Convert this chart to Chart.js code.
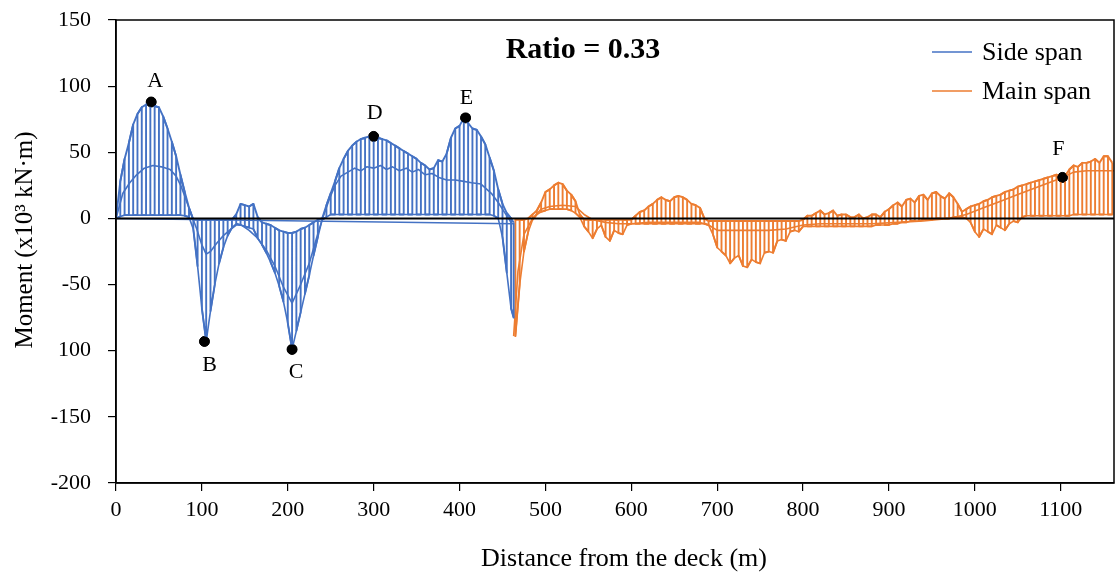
<!DOCTYPE html>
<html><head><meta charset="utf-8">
<script src="https://cdn.jsdelivr.net/npm/chart.js@4.4.1/dist/chart.umd.min.js"></script>
<style>html,body{margin:0;padding:0;background:#fff}#wrap{width:1120px;height:581px}</style>
</head><body><div id="wrap"><canvas id="c" width="1120" height="581"></canvas></div>
<script>
// ---------- DATA ----------
const xTickValues = [0,100,200,300,400,500,600,700,800,900,1000,1100];
const yTickValues = [-200,-150,-100,-50,0,50,100,150];

// Side span envelope (hatch positions, upper and lower values, x10^3 kN·m)
const sideX = [0,5,10,15,20,25,30,35,40,45,50,55,60,65,70,75,80,85,90,95,100,105,110,115,120,125,130,135,140,145,150,155,160,165,170,175,180,185,190,195,200,205,210,215,220,225,230,235,240,245,250,255,260,265,270,275,280,285,290,295,300,305,310,315,320,325,330,335,340,345,350,355,360,365,370,375,380,385,390,395,400,405,410,415,420,425,430,435,440,445,450,455,460,463];
const sideUpper = [0,28,45,57,71,79,84,86,88,85,84,77,68,58,47,33,20,8,-1,-1,-1,-1,-1,-1,-1,-1,-1,-1,3,11,10,9,11,1,-3,-4,-5,-7,-9,-10,-11,-11,-10,-8,-7,-5,-3,-1,0,10,19,28,38,45,51,55,58,60,61,62,62,61,60,59,57,55,53,51,49,47,45,42,40,37,38,44,43,49,61,68,70,76,72,68,67,62,56,46,36,22,11,4,0,-3];
const sideLower = [0,1.5,2.5,2.5,2.5,2.5,2.5,2.5,2.5,2.5,2.5,2.5,2.5,2.5,2.5,2.5,2,1,-8,-36,-68,-93,-70,-50,-34,-22,-13,-7,-4,-5,-6,-7,-8,-15,-20,-26,-33,-41,-51,-63,-79,-99,-85,-71,-57,-43,-28,-14,-1,1,3,3,3,3,3,3,3,3,3,3,3,3,3,3,3,3,3,3,3,3,3,3,3,3,3,3,3,3,3,3,3,3,3,3,3,3,3,3,2,0,-14,-41,-68,-75];
// Side span inner curve
const sideMidX = [0,8,16,24,33,43,53,63,70,76,81,86,90,94,100,105,110,117,125,132,140,146,155,165,175,185,195,205,215,225,233,240,248,255,262,270,278,285,292,300,308,315,322,330,338,345,352,360,368,376,385,395,405,414,425,437,445,453,461];
const sideMidY = [0,19,27,33,38,40,39,37,32,24,15,6,-1,-8,-20,-27,-25,-19,-13,-9,-5,-5,-9,-15,-24,-36,-52,-64,-50,-34,-16,-1,14,25,32,35,38,36,39,38,40,37,39,36,38,35,37,33,34,31,29,29,28,27,26,19,12,4,-4];
// Side span base line
const sideBaseX = [0,463];
const sideBaseY = [0,-4];

// Main span envelope
const mainX = [465,470,475,480,485,490,495,500,505,510,515,520,525,530,535,540,545,550,555,560,565,570,575,580,585,590,595,600,605,610,615,620,625,630,635,640,645,650,655,660,665,670,675,680,685,690,695,700,705,710,715,720,725,730,735,740,745,750,755,760,765,770,775,780,785,790,795,800,805,810,815,820,825,830,835,840,845,850,855,860,865,870,875,880,885,890,895,900,905,910,915,920,925,930,935,940,945,950,955,960,965,970,975,980,985,990,995,1000,1005,1010,1015,1020,1025,1030,1035,1040,1045,1050,1055,1060,1065,1070,1075,1080,1085,1090,1095,1100,1105,1110,1115,1120,1125,1130,1135,1140,1145,1150,1155,1160];
const mainUpper = [-1,-1,-1,0,3,6,12,20,22,25,27,26,21,18,13,3,-1,-1,-1,-1,-1,-1,-1,-1,-1,-1,-1,-1,2,5,6,9,11,14,16,14,13,16,17,16,14,11,10,8,0,-2,-2,-2,-2,-2,-2,-2,-2,-2,-2,-2,-2,-2,-2,-2,-2,-2,-2,-2,-2,-2,-2,-1,2,2,4,6,3,4,6,2,3,3,1,1,3,0,1,3,3,1,5,7,10,12,9,14,15,12,17,18,14,19,20,17,15,19,16,11,5,7,9,10,11,13,14,16,17,18,20,21,22,24,25,26,27,28,29,30,31,32,33,32,32,37,40,39,42,42,43,45,42,47,47,42];
const mainLower = [-89,-50,-25,-10,-1,3,5,6,7,7,7,7,7,6,4,1,-6,-10,-15,-8,-5,-14,-17,-9,-11,-12,-5,-4,-4,-4,-4,-4,-4,-4,-4,-4,-4,-4,-4,-4,-4,-4,-4,-4,-4,-5,-12,-22,-25,-28,-34,-30,-28,-36,-37,-31,-33,-34,-26,-25,-26,-17,-16,-17,-10,-9,-10,-6,-6,-6,-6,-6,-6,-6,-6,-6,-6,-6,-6,-6,-6,-6,-6,-6,-5,-5,-5,-5,-4,-4,-3,-3,-2,-2,-2,-1,-1,-1,0,0,0,0,1,1,1,0,-3,-10,-14,-8,-10,-12,-5,-7,-9,-4,-2,-3,1,2,2,2,2,2,2,2,2,2,2,2,3,3,3,3,3,3,3,3,3,3];
// Main span inner curve
const mainMidX = [463,468,475,485,495,505,520,535,545,555,570,585,600,620,640,660,680,690,700,720,740,760,780,800,820,850,880,910,940,970,990,1010,1030,1050,1070,1090,1102,1115,1130,1145,1162];
const mainMidY = [-89,-40,-12,0,7,9,10,9,3,-1,-3,-4,-4,-3,-3,-3,-3,-5,-9,-9,-9,-9,-8,-5,-4,-4,-4,-3,-2,0,3,8,13,18,23,28,31,35,36,36,36];

// Marked points
const markLabels = ['A','B','C','D','E','F'];
const markX = [41,103,205,300,407,1102];
const markY = [88,-93,-99,62,76,31];

// ---------- BUILD ----------
const BLUE = '#4472C4', ORANGE = '#ED7D31';
const SERIF = "'Liberation Serif','Times New Roman',serif";
function zigzag(xs, up, lo){
  const pts=[];
  for(let i=0;i<xs.length;i++){
    if(i%2===0){pts.push({x:xs[i],y:up[i]});pts.push({x:xs[i],y:lo[i]});}
    else {pts.push({x:xs[i],y:lo[i]});pts.push({x:xs[i],y:up[i]});}
  }
  return pts;
}
const pairs=(xs,ys)=>xs.map((x,i)=>({x:x,y:ys[i]}));
const lineDs=(label,data,color,w,legend)=>({label,data,showLine:true,borderColor:color,backgroundColor:color,borderWidth:w,pointRadius:0,tension:0,fill:false,inLegend:legend,borderJoinStyle:'round'});

const datasets=[
  lineDs('Side span',zigzag(sideX,sideUpper,sideLower),BLUE,1.9,true),
  lineDs('side-upper',pairs(sideX,sideUpper),BLUE,1.9,false),
  lineDs('side-lower',pairs(sideX,sideLower),BLUE,1.6,false),
  lineDs('side-mid',pairs(sideMidX,sideMidY),BLUE,1.6,false),
  lineDs('side-base',pairs(sideBaseX,sideBaseY),BLUE,1.5,false),
  lineDs('Main span',zigzag(mainX,mainUpper,mainLower),ORANGE,1.9,true),
  lineDs('main-upper',pairs(mainX,mainUpper),ORANGE,1.9,false),
  lineDs('main-lower',pairs(mainX,mainLower),ORANGE,1.6,false),
  lineDs('main-mid',pairs(mainMidX,mainMidY),ORANGE,1.6,false),
  {label:'points',data:pairs(markX,markY),showLine:false,pointRadius:5,pointBackgroundColor:'#000',pointBorderColor:'#000',inLegend:false}
];

const labelOffsets={A:[4,-21],B:[5,24],C:[4,23],D:[1,-23],E:[1,-20],F:[-4,-28]};

const decor={
  id:'decor',
  afterDatasetsDraw(chart){
    const {ctx,chartArea:a,scales:{x,y}}=chart;
    ctx.save();
    // zero line
    ctx.strokeStyle='#000';ctx.lineWidth=2;
    const y0=y.getPixelForValue(0);
    ctx.beginPath();ctx.moveTo(a.left,y0);ctx.lineTo(a.right,y0);ctx.stroke();
    // frame
    ctx.lineWidth=1.5;
    ctx.strokeRect(a.left,a.top,a.right-a.left,a.bottom-a.top);
    // point markers on top
    ctx.fillStyle='#000';
    markX.forEach((mx,i)=>{
      const px=x.getPixelForValue(mx),py=y.getPixelForValue(markY[i]);
      ctx.beginPath();ctx.arc(px,py,5,0,Math.PI*2);ctx.fill();
      const o=labelOffsets[markLabels[i]];
      ctx.font='22px '+SERIF;ctx.textAlign='center';ctx.textBaseline='middle';
      ctx.fillText(markLabels[i],px+o[0],py+o[1]);
    });
    // title inside plot
    ctx.font='bold 30px '+SERIF;ctx.textAlign='center';ctx.textBaseline='middle';
    ctx.fillText('Ratio = 0.33',583,50);
    // legend
    const items=chart.data.datasets.filter(d=>d.inLegend);
    items.forEach((d,i)=>{
      const ly=52+i*39;
      ctx.strokeStyle=d.borderColor;ctx.lineWidth=1.5;
      ctx.beginPath();ctx.moveTo(932,ly);ctx.lineTo(972,ly);ctx.stroke();
      ctx.fillStyle='#000';ctx.font='26px '+SERIF;ctx.textAlign='left';ctx.textBaseline='middle';
      ctx.fillText(d.label,982,ly+1);
    });
    // axis titles
    ctx.font='26px '+SERIF;ctx.textAlign='center';ctx.textBaseline='middle';
    ctx.fillText('Distance from the deck (m)',624,559);
    ctx.font='25px '+SERIF;
    ctx.translate(25,240);ctx.rotate(-Math.PI/2);
    ctx.fillText('Moment (x10\u00B3 kN\u00B7m)',0,0);
    ctx.restore();
  }
};

new Chart(document.getElementById('c'),{
  type:'scatter',
  data:{datasets},
  options:{
    responsive:false,animation:false,devicePixelRatio:1,
    layout:{padding:{left:0,right:3,top:20,bottom:0}},
    plugins:{legend:{display:false},tooltip:{enabled:false},title:{display:false}},
    scales:{
      x:{type:'linear',min:0,max:1162,
        afterBuildTicks(ax){ax.ticks=xTickValues.map(v=>({value:v}));},
        afterFit(s){s.height=98;},
        grid:{display:true,drawOnChartArea:false,drawTicks:true,tickLength:8,color:'#000',lineWidth:1.2},
        border:{display:true,color:'#000',width:1.5},
        ticks:{color:'#000',font:{family:SERIF,size:22},padding:6,maxRotation:0,autoSkip:false,callback:v=>String(v)}
      },
      y:{type:'linear',min:-200,max:150,
        afterBuildTicks(ax){ax.ticks=yTickValues.map(v=>({value:v}));},
        afterFit(s){s.width=116;s.paddingTop=0;s.paddingBottom=0;},
        grid:{display:true,drawOnChartArea:false,drawTicks:true,tickLength:8,color:'#000',lineWidth:1.2},
        border:{display:true,color:'#000',width:1.5},
        ticks:{color:'#000',font:{family:SERIF,size:22},padding:17,callback:v=>(v===-100?'100':String(v))}
      }
    }
  },
  plugins:[decor]
});
</script></body></html>
